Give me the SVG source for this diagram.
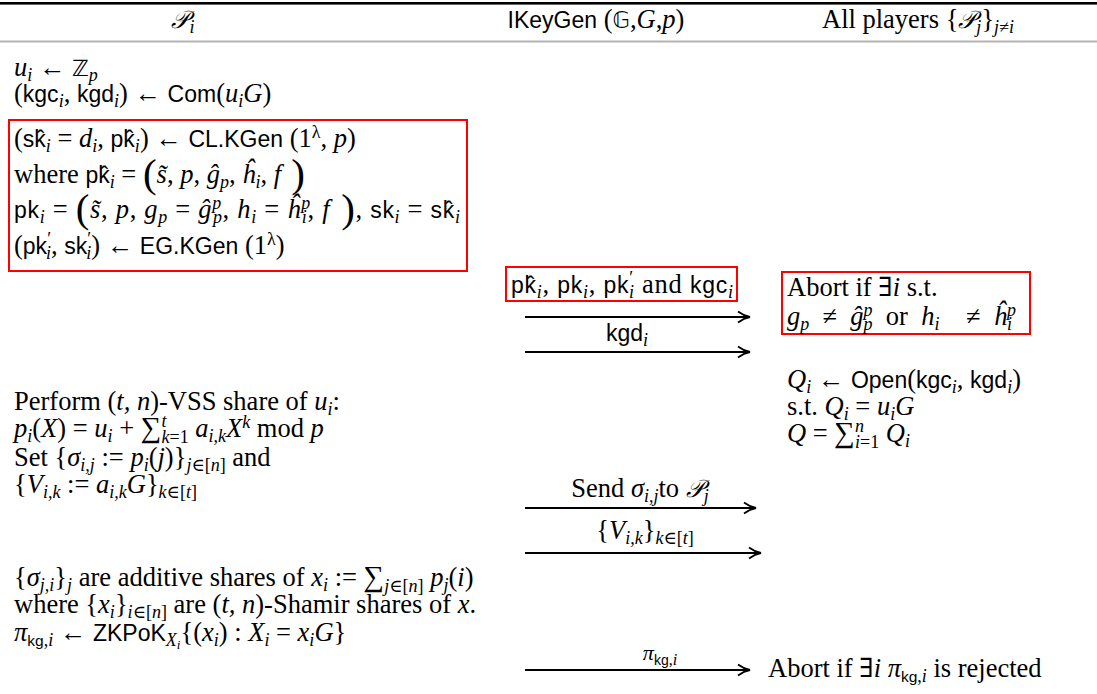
<svg xmlns="http://www.w3.org/2000/svg" width="1097" height="694" viewBox="0 0 1097 694">
<style>
text{font-family:"Liberation Serif","DejaVu Serif",serif;font-size:26.5px;fill:#000}
.i{font-style:italic}
.s{font-family:"Liberation Sans","DejaVu Sans",sans-serif;font-size:23px;font-style:normal}
.b{font-size:18px}
.bs{font-family:"Liberation Sans","DejaVu Sans",sans-serif;font-size:15.5px;font-style:normal}
.m{font-family:"DejaVu Sans",sans-serif;font-size:22.5px}
.c{font-family:"DejaVu Sans","Noto Sans","Noto Sans CJK SC",sans-serif;font-size:24.5px}
.big{font-size:41px}
.sum{font-size:29px}
.box{fill:none;stroke:#f00;stroke-width:2}
.arr{stroke:#000;stroke-width:2;fill:none}
.mid{text-anchor:middle}
</style>
<defs>
<marker id="ah" markerWidth="16" markerHeight="14" refX="13" refY="7" orient="auto" markerUnits="userSpaceOnUse">
<path d="M1,1.5 Q7,6 13,7 Q7,8 1,12.5" fill="none" stroke="#000" stroke-width="1.8"/>
</marker>
</defs>

<g id="rules">
<rect x="0" y="2" width="1097" height="2.6" fill="#000"/>
<rect x="0" y="40.5" width="1097" height="2" fill="#b3b3b3"/>
</g>

<g id="header">
<text x="183" y="28" class="mid"><tspan class="c i">𝒫</tspan><tspan class="b i" dy="5">i</tspan></text>
<text x="596" y="28" class="mid"><tspan class="s">IKeyGen</tspan> (<tspan class="m">𝔾</tspan>,<tspan class="i">G</tspan>,<tspan class="i">p</tspan>)</text>
<text x="918" y="28" class="mid">All players {<tspan class="c i">𝒫</tspan><tspan class="b i" dy="5">j</tspan><tspan dy="-5">}</tspan><tspan class="b i" dy="5">j≠i</tspan></text>
</g>

<g id="pi-init">
<text x="14" y="76"><tspan class="i">u</tspan><tspan class="b i" dy="5">i</tspan><tspan dy="-5"> ← </tspan><tspan class="m">ℤ</tspan><tspan class="b i" dy="5">p</tspan></text>
<text x="14" y="102">(<tspan class="s">kgc</tspan><tspan class="b i" dy="5">i</tspan><tspan dy="-5">, </tspan><tspan class="s">kgd</tspan><tspan class="b i" dy="5">i</tspan><tspan dy="-5">) ← </tspan><tspan class="s">Com</tspan>(<tspan class="i">u</tspan><tspan class="b i" dy="5">i</tspan><tspan class="i" dy="-5">G</tspan>)</text>
</g>

<g id="pi-keygen">
<rect class="box" x="9" y="120" width="458" height="151"/>
<text x="14" y="147">(<tspan class="s">sk̂</tspan><tspan class="b i" dy="5">i</tspan><tspan dy="-5"> = </tspan><tspan class="i">d</tspan><tspan class="b i" dy="5">i</tspan><tspan dy="-5">, </tspan><tspan class="s">pk̂</tspan><tspan class="b i" dy="5">i</tspan><tspan dy="-5">) ← </tspan><tspan class="s">CL.KGen</tspan> (1<tspan class="b" dy="-9">λ</tspan><tspan dy="9">, </tspan><tspan class="i">p</tspan>)</text>
<text x="14" y="183">where <tspan class="s">pk̂</tspan><tspan class="b i" dy="5">i</tspan><tspan dy="-5"> = </tspan><tspan class="big" dy="4">(</tspan><tspan class="i" dy="-4">s̃</tspan>, <tspan class="i">p</tspan>, <tspan class="i">ĝ</tspan><tspan class="b i" dy="5">p</tspan><tspan dy="-5">, </tspan><tspan class="i">ĥ</tspan><tspan class="b i" dy="5">i</tspan><tspan dy="-5">, </tspan><tspan class="i">f</tspan><tspan class="big" dy="4"> )</tspan></text>
<text x="14" y="218" textLength="446" lengthAdjust="spacing"><tspan class="s">pk</tspan><tspan class="b i" dy="5">i</tspan><tspan dy="-5"> = </tspan><tspan class="big" dy="4">(</tspan><tspan class="i" dy="-4">s̃</tspan>, <tspan class="i">p</tspan>, <tspan class="i">g</tspan><tspan class="b i" dy="5">p</tspan><tspan dy="-5"> = </tspan><tspan class="i">ĝ</tspan><tspan class="b i" dy="-9">p</tspan><tspan class="b i" dx="-9" dy="14">p</tspan><tspan dy="-5">, </tspan><tspan class="i">h</tspan><tspan class="b i" dy="5">i</tspan><tspan dy="-5"> = </tspan><tspan class="i">ĥ</tspan><tspan class="b i" dy="-9">p</tspan><tspan class="b i" dx="-9" dy="14">i</tspan><tspan dy="-5">, </tspan><tspan class="i">f</tspan><tspan class="big" dy="4"> )</tspan><tspan dy="-4">, </tspan><tspan class="s">sk</tspan><tspan class="b i" dy="5">i</tspan><tspan dy="-5"> = </tspan><tspan class="s">sk̂</tspan><tspan class="b i" dy="5">i</tspan></text>
<text x="14" y="254">(<tspan class="s">pk</tspan><tspan class="b" dy="-9">′</tspan><tspan class="b i" dx="-5" dy="14">i</tspan><tspan dy="-5">,  </tspan><tspan class="s">sk</tspan><tspan class="b" dy="-9">′</tspan><tspan class="b i" dx="-5" dy="14">i</tspan><tspan dy="-5">) ← </tspan><tspan class="s">EG.KGen</tspan> (1<tspan class="b" dy="-9">λ</tspan><tspan dy="9">)</tspan></text>
</g>

<g id="msg-keys">
<rect class="box" x="506" y="267" width="231" height="34"/>
<text x="511" y="293" textLength="222" lengthAdjust="spacing"><tspan class="s">pk̂</tspan><tspan class="b i" dy="5">i</tspan><tspan dy="-5">, </tspan><tspan class="s">pk</tspan><tspan class="b i" dy="5">i</tspan><tspan dy="-5">, </tspan><tspan class="s">pk</tspan><tspan class="b" dy="-9">′</tspan><tspan class="b i" dx="-5" dy="14">i</tspan><tspan dy="-5"> and </tspan><tspan class="s">kgc</tspan><tspan class="b i" dy="5">i</tspan></text>
<text x="627" y="341" class="mid"><tspan class="s">kgd</tspan><tspan class="b i" dy="5">i</tspan></text>
</g>

<g id="check-keys">
<rect class="box" x="782" y="272" width="248" height="62"/>
<text x="787" y="296">Abort if ∃<tspan class="i">i</tspan> s.t.</text>
<text x="787" y="325"><tspan class="i">g</tspan><tspan class="b i" dy="5">p</tspan><tspan dy="-5">&#8194;≠&#8194;</tspan><tspan class="i">ĝ</tspan><tspan class="b i" dy="-9">p</tspan><tspan class="b i" dx="-9" dy="14">p</tspan><tspan dy="-5">&#8194;or&#8194;</tspan><tspan class="i">h</tspan><tspan class="b i" dy="5">i</tspan><tspan dy="-5">&#8194;&#8194;≠&#8194;</tspan><tspan class="i">ĥ</tspan><tspan class="b i" dy="-9">p</tspan><tspan class="b i" dx="-9" dy="14">i</tspan></text>
</g>

<g id="open">
<text x="787" y="388"><tspan class="i">Q</tspan><tspan class="b i" dy="5">i</tspan><tspan dy="-5"> ← </tspan><tspan class="s">Open</tspan>(<tspan class="s">kgc</tspan><tspan class="b i" dy="5">i</tspan><tspan dy="-5">, </tspan><tspan class="s">kgd</tspan><tspan class="b i" dy="5">i</tspan><tspan dy="-5">)</tspan></text>
<text x="787" y="415">s.t. <tspan class="i">Q</tspan><tspan class="b i" dy="5">i</tspan><tspan dy="-5"> = </tspan><tspan class="i">u</tspan><tspan class="b i" dy="5">i</tspan><tspan class="i" dy="-5">G</tspan></text>
<text x="787" y="442"><tspan class="i">Q</tspan> = <tspan class="sum">∑</tspan><tspan class="b i" dy="-10">n</tspan><tspan class="b" dx="-9" dy="16"><tspan class="i">i</tspan>=1</tspan><tspan class="i" dy="-6"> Q</tspan><tspan class="b i" dy="5">i</tspan></text>
</g>

<g id="vss">
<text x="14" y="410">Perform (<tspan class="i">t, n</tspan>)-VSS share of <tspan class="i">u</tspan><tspan class="b i" dy="5">i</tspan><tspan dy="-5">:</tspan></text>
<text x="14" y="437"><tspan class="i">p</tspan><tspan class="b i" dy="5">i</tspan><tspan dy="-5">(</tspan><tspan class="i">X</tspan>) = <tspan class="i">u</tspan><tspan class="b i" dy="5">i</tspan><tspan dy="-5"> + </tspan><tspan class="sum">∑</tspan><tspan class="b i" dy="-10">t</tspan><tspan class="b" dx="-5" dy="16"><tspan class="i">k</tspan>=1</tspan><tspan class="i" dy="-6"> a</tspan><tspan class="b i" dy="5">i,k</tspan><tspan class="i" dy="-5">X</tspan><tspan class="b i" dy="-9">k</tspan><tspan dy="9"> mod </tspan><tspan class="i">p</tspan></text>
<text x="14" y="466">Set {<tspan class="i">σ</tspan><tspan class="b i" dy="5">i,j</tspan><tspan dy="-5"> := </tspan><tspan class="i">p</tspan><tspan class="b i" dy="5">i</tspan><tspan dy="-5">(</tspan><tspan class="i">j</tspan>)}<tspan class="b" dy="5"><tspan class="i">j</tspan>∈[<tspan class="i">n</tspan>]</tspan><tspan dy="-5"> and</tspan></text>
<text x="14" y="493">{<tspan class="i">V</tspan><tspan class="b i" dy="5">i,k</tspan><tspan dy="-5"> := </tspan><tspan class="i">a</tspan><tspan class="b i" dy="5">i,k</tspan><tspan class="i" dy="-5">G</tspan>}<tspan class="b" dy="5"><tspan class="i">k</tspan>∈[<tspan class="i">t</tspan>]</tspan></text>
</g>

<g id="msg-shares">
<text x="640" y="497" class="mid">Send <tspan class="i">σ</tspan><tspan class="b i" dy="5">i,j</tspan><tspan dy="-5">to </tspan><tspan class="c i">𝒫</tspan><tspan class="b i" dy="5">j</tspan></text>
<text x="645" y="539" class="mid">{<tspan class="i">V</tspan><tspan class="b i" dy="5">i,k</tspan><tspan dy="-5">}</tspan><tspan class="b" dy="5"><tspan class="i">k</tspan>∈[<tspan class="i">t</tspan>]</tspan></text>
</g>

<g id="shamir">
<text x="14" y="586">{<tspan class="i">σ</tspan><tspan class="b i" dy="5">j,i</tspan><tspan dy="-5">}</tspan><tspan class="b i" dy="5">j</tspan><tspan dy="-5"> are additive shares of </tspan><tspan class="i">x</tspan><tspan class="b i" dy="5">i</tspan><tspan dy="-5"> := </tspan><tspan class="sum">∑</tspan><tspan class="b" dy="6"><tspan class="i">j</tspan>∈[<tspan class="i">n</tspan>]</tspan><tspan class="i" dy="-6"> p</tspan><tspan class="b i" dy="5">j</tspan><tspan dy="-5">(</tspan><tspan class="i">i</tspan>)</text>
<text x="14" y="613">where {<tspan class="i">x</tspan><tspan class="b i" dy="5">i</tspan><tspan dy="-5">}</tspan><tspan class="b" dy="5"><tspan class="i">i</tspan>∈[<tspan class="i">n</tspan>]</tspan><tspan dy="-5"> are (</tspan><tspan class="i">t, n</tspan>)-Shamir shares of <tspan class="i">x</tspan>.</text>
<text x="14" y="641"><tspan class="i">π</tspan><tspan class="b" dy="5"><tspan class="bs">kg</tspan>,<tspan class="i">i</tspan></tspan><tspan dy="-5"> ← </tspan><tspan class="s">ZKPoK</tspan><tspan class="b i" dy="5">X</tspan><tspan class="i" style="font-size:13px" dy="3">i</tspan><tspan dy="-8">{(</tspan><tspan class="i">x</tspan><tspan class="b i" dy="5">i</tspan><tspan dy="-5">) : </tspan><tspan class="i">X</tspan><tspan class="b i" dy="5">i</tspan><tspan dy="-5"> = </tspan><tspan class="i">x</tspan><tspan class="b i" dy="5">i</tspan><tspan class="i" dy="-5">G</tspan>}</text>
</g>

<g id="proof">
<text x="660" y="660" class="mid"><tspan class="i" style="font-size:22px">π</tspan><tspan class="b" style="font-size:16px" dy="5"><tspan class="bs" style="font-size:14px">kg</tspan>,<tspan class="i">i</tspan></tspan></text>
<text x="768" y="677">Abort if ∃<tspan class="i">i π</tspan><tspan class="b" dy="5"><tspan class="bs">kg</tspan>,<tspan class="i">i</tspan></tspan><tspan dy="-5"> is rejected</tspan></text>
</g>

<g id="connectors">
<line class="arr" x1="525" y1="317" x2="750" y2="317" marker-end="url(#ah)"/>
<line class="arr" x1="525" y1="352" x2="750" y2="352" marker-end="url(#ah)"/>
<line class="arr" x1="525" y1="508" x2="756" y2="508" marker-end="url(#ah)"/>
<line class="arr" x1="525" y1="553" x2="761" y2="553" marker-end="url(#ah)"/>
<line class="arr" x1="525" y1="670" x2="750" y2="670" marker-end="url(#ah)"/>
</g>
</svg>
